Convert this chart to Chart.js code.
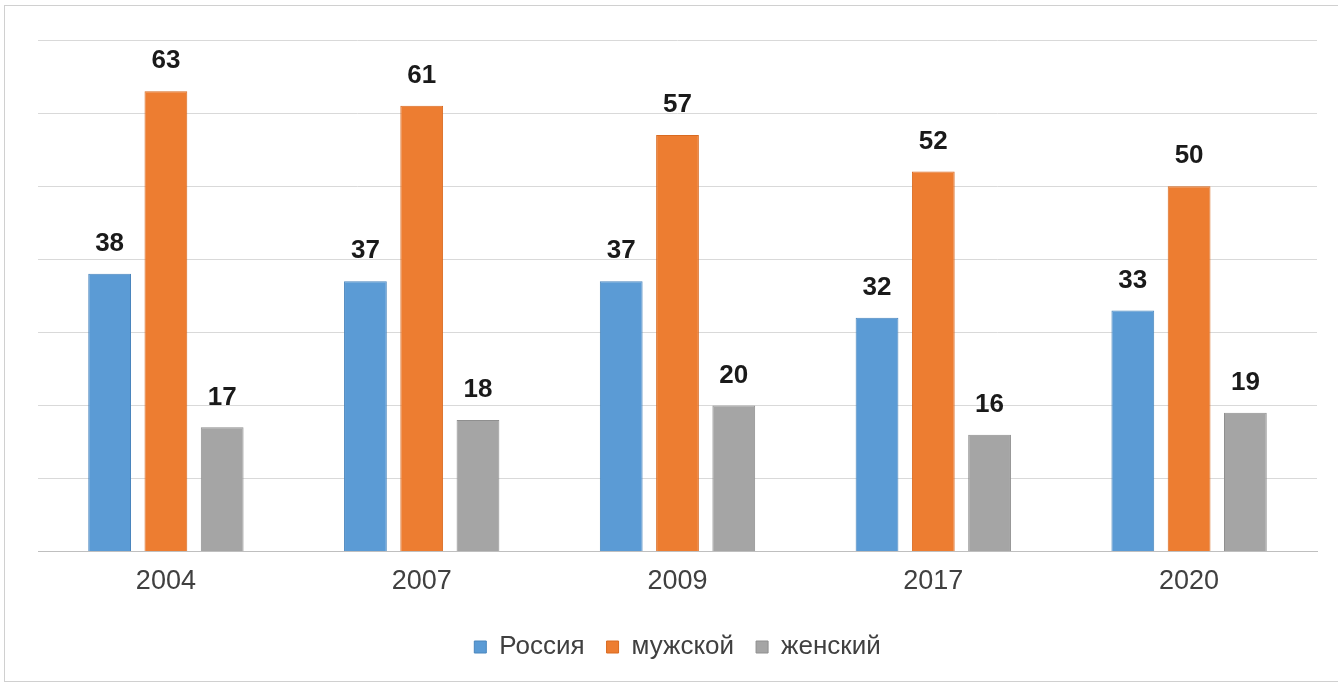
<!DOCTYPE html>
<html>
<head>
<meta charset="utf-8">
<script src="https://cdn.jsdelivr.net/npm/chart.js@4.4.1/dist/chart.umd.min.js"></script>
<style>
  html, body { margin: 0; padding: 0; background: #fff; }
  #wrap { position: absolute; left: 0; top: 0; width: 1338px; height: 683px; }
  #frame { position: absolute; left: 4px; top: 5px; width: 1340px; height: 675px; border: 1px solid #d0d0d0; }
</style>
</head>
<body>
<div id="frame"></div>
<div id="wrap"><canvas id="chart" width="1338" height="683"></canvas></div>
<script>
// годы
const years = ['2004', '2007', '2009', '2017', '2020'];
// значения по сериям
const russia = [38, 37, 37, 32, 33];
const male = [63, 61, 57, 52, 50];
const female = [17, 18, 20, 16, 19];
const seriesNames = ['Россия', 'мужской', 'женский'];

// подписи над столбцами
const barLabels = {
    id: 'barLabels',
    afterDatasetsDraw(chart) {
        const ctx = chart.ctx;
        ctx.save();
        ctx.font = 'bold 26px "Liberation Sans", Arial, sans-serif';
        ctx.fillStyle = '#1a1a1a';
        ctx.textAlign = 'center';
        ctx.textBaseline = 'middle';
        chart.data.datasets.forEach((ds, i) => {
            chart.getDatasetMeta(i).data.forEach((bar, j) => {
                ctx.fillText(ds.data[j], bar.x, bar.y - 30);
            });
        });
        ctx.restore();
    }
};

const ctx = document.getElementById('chart').getContext('2d');
new Chart(ctx, {
    type: 'bar',
    data: {
        labels: years,
        datasets: [
            { label: seriesNames[0], data: russia, backgroundColor: '#5b9bd5', borderColor: '#4a86bd', borderWidth: 1 },
            { label: seriesNames[1], data: male, backgroundColor: '#ed7d31', borderColor: '#d96a20', borderWidth: 1 },
            { label: seriesNames[2], data: female, backgroundColor: '#a5a5a5', borderColor: '#8f8f8f', borderWidth: 1 }
        ]
    },
    options: {
        responsive: false,
        animation: false,
        categoryPercentage: 0.66,
        barPercentage: 0.76,
        layout: { padding: { left: 38, right: 21, top: 40, bottom: 13 } },
        scales: {
            x: {
                grid: { display: false, drawTicks: false },
                border: { color: '#bfbfbf', width: 1 },
                ticks: {
                    padding: 14,
                    color: '#404040',
                    font: { family: '"Liberation Sans", Arial, sans-serif', size: 27 }
                },
                afterFit(scale) { scale.height += 0; }
            },
            y: {
                min: 0,
                max: 70,
                ticks: { display: false, stepSize: 10 },
                grid: { color: '#d9d9d9', drawTicks: false },
                border: { display: false }
            }
        },
        plugins: {
            tooltip: { enabled: false },
            legend: {
                position: 'bottom',
                labels: {
                    boxWidth: 12,
                    boxHeight: 12,
                    padding: 22,
                    color: '#404040',
                    font: { family: '"Liberation Sans", Arial, sans-serif', size: 26 }
                }
            }
        }
    },
    plugins: [barLabels]
});
</script>
</body>
</html>
